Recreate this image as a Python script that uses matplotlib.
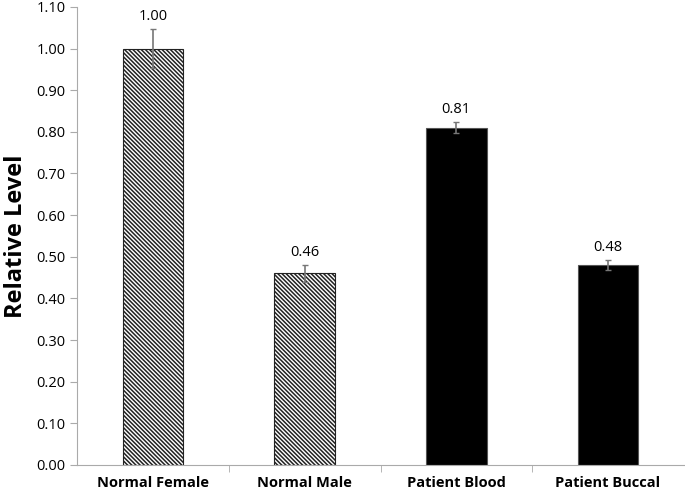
import numpy as np
import matplotlib.pyplot as plt

# data
groups = ['Normal Female', 'Normal Male', 'Patient Blood', 'Patient Buccal']
levels = [1.00, 0.46, 0.81, 0.48]
errors = [0.047, 0.02, 0.014, 0.012]
hatched = [True, True, False, False]

plt.rcParams['font.family'] = ['Open Sans', 'DejaVu Sans']
plt.rcParams['hatch.linewidth'] = 1.1

fig = plt.figure(figsize=(6.85, 4.92), dpi=100)
ax = fig.add_axes([0.113, 0.055, 0.885, 0.931])

x = np.arange(len(groups))
for i in range(len(groups)):
    if hatched[i]:
        ax.bar(x[i], levels[i], width=0.4, color='white', edgecolor='#222222',
               hatch='\\' * 8, linewidth=0.8, zorder=2)
    else:
        ax.bar(x[i], levels[i], width=0.4, color='black', edgecolor='#555555',
               linewidth=0.8, zorder=2)
    ax.errorbar(x[i], levels[i], yerr=errors[i], color='#777777', capsize=2,
                elinewidth=1.2, capthick=1, zorder=3)
    ax.text(x[i], levels[i] + errors[i] + 0.012, '%.2f' % levels[i],
            ha='center', va='bottom', fontsize=10.5)

ax.set_xlim(-0.5, 3.5)
ax.set_ylim(0, 1.10)
ax.set_yticks(np.arange(0, 1.11, 0.1))
ax.set_yticklabels(['%.2f' % v for v in np.arange(0, 1.11, 0.1)], fontsize=10.5)
ax.set_xticks(x)
ax.set_xticklabels(groups, fontsize=10.5, fontweight='bold')
ax.tick_params(axis='x', length=0, pad=8)
ax.set_xticks(np.arange(0.5, 3.5, 1), minor=True)
ax.tick_params(axis='x', which='minor', length=5, color='#aaaaaa')
ax.tick_params(axis='y', length=5, color='#aaaaaa')
ax.set_ylabel('Relative Level', fontsize=17, fontweight='bold', labelpad=6)

for s in ['top', 'right']:
    ax.spines[s].set_visible(False)
for s in ['left', 'bottom']:
    ax.spines[s].set_color('#aaaaaa')

plt.savefig('out.png', dpi=100)
